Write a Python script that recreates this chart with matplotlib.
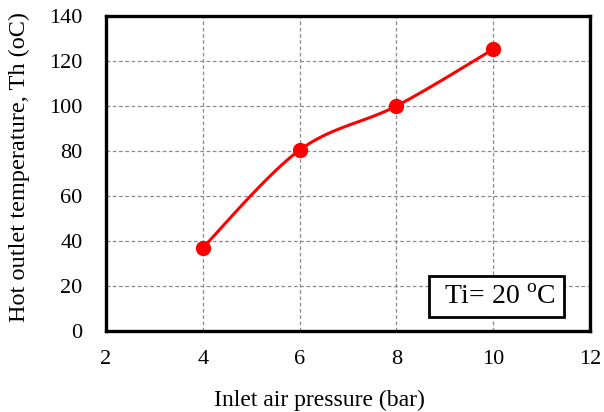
import numpy as np
import matplotlib
matplotlib.use("Agg")
import matplotlib.pyplot as plt
from matplotlib.patches import Rectangle

pressure = [4, 6, 8, 10]
temperature = [37.0, 80.4, 100.0, 125.2]
xticks = [2, 4, 6, 8, 10, 12]
yticks = [0, 20, 40, 60, 80, 100, 120, 140]

plt.rcParams['font.family'] = ['Liberation Serif', 'DejaVu Serif']
plt.rcParams['mathtext.fontset'] = 'custom'
plt.rcParams['mathtext.rm'] = 'Liberation Serif'

fig = plt.figure(figsize=(6.04, 4.12), dpi=100)
ax = fig.add_axes([0.1755, 0.1966, 0.9768 - 0.1755, 0.9612 - 0.1966])
ax.set_xlim(2, 12)
ax.set_ylim(0, 140)

# Excel-like smoothed curve (cubic Bezier, Catmull-Rom control points)
px = np.array(pressure, float)
py = np.array(temperature, float)
n = len(px)
sx = 484 / 10.0
sy = 315 / 140.0
P = np.column_stack([px * sx, py * sy])
curve = []
t = np.linspace(0, 1, 40)
for i in range(n - 1):
    p0 = P[i - 1] if i > 0 else P[i]
    p1 = P[i]
    p2 = P[i + 1]
    p3 = P[i + 2] if i + 2 < n else P[i + 1]
    c1 = p1 + (p2 - p0) / 6.0
    c2 = p2 - (p3 - p1) / 6.0
    b = ((1 - t) ** 3)[:, None] * p1 + (3 * (1 - t) ** 2 * t)[:, None] * c1 + \
        (3 * (1 - t) * t ** 2)[:, None] * c2 + (t ** 3)[:, None] * p2
    curve.append(b)
curve = np.vstack(curve)
cx = curve[:, 0] / sx
cy = curve[:, 1] / sy

ax.plot(cx, cy, color='#ff0000', lw=2.2, zorder=3, solid_capstyle='round')
ax.plot(px, py, 'o', color='#ff0000', ms=10, zorder=4)

ax.set_xticks(xticks)
ax.set_yticks(yticks)
ax.grid(True, color='#8c8c8c', linestyle=(0, (3, 2)), lw=0.9)
ax.set_axisbelow(True)
ax.tick_params(length=0, labelsize=16)
ax.tick_params(axis='y', pad=17)
ax.tick_params(axis='x', pad=13.5)
for s in ax.spines.values():
    s.set_linewidth(2.4)
    s.set_color('black')

ax.set_xlabel('Inlet air pressure (bar)', fontsize=17, va='center')
ax.xaxis.set_label_coords(0.441, -0.219)
ax.set_ylabel('Hot outlet temperature, Th (oC)', fontsize=17.5, va='center')
ax.yaxis.set_label_coords(-0.178, 0.522)

# annotation box
box = Rectangle((429 / 604, 1 - 317 / 412), (564 - 429) / 604, (317 - 276) / 412,
                transform=fig.transFigure, facecolor='white', edgecolor='black',
                lw=2.0, zorder=5)
fig.patches.append(box)
fig.text(500 / 604, 1 - 297 / 412, r'Ti= 20 $^{\mathregular{o}}$C',
         ha='center', va='center', fontsize=20, zorder=6)

fig.savefig('out.png', dpi=100)
